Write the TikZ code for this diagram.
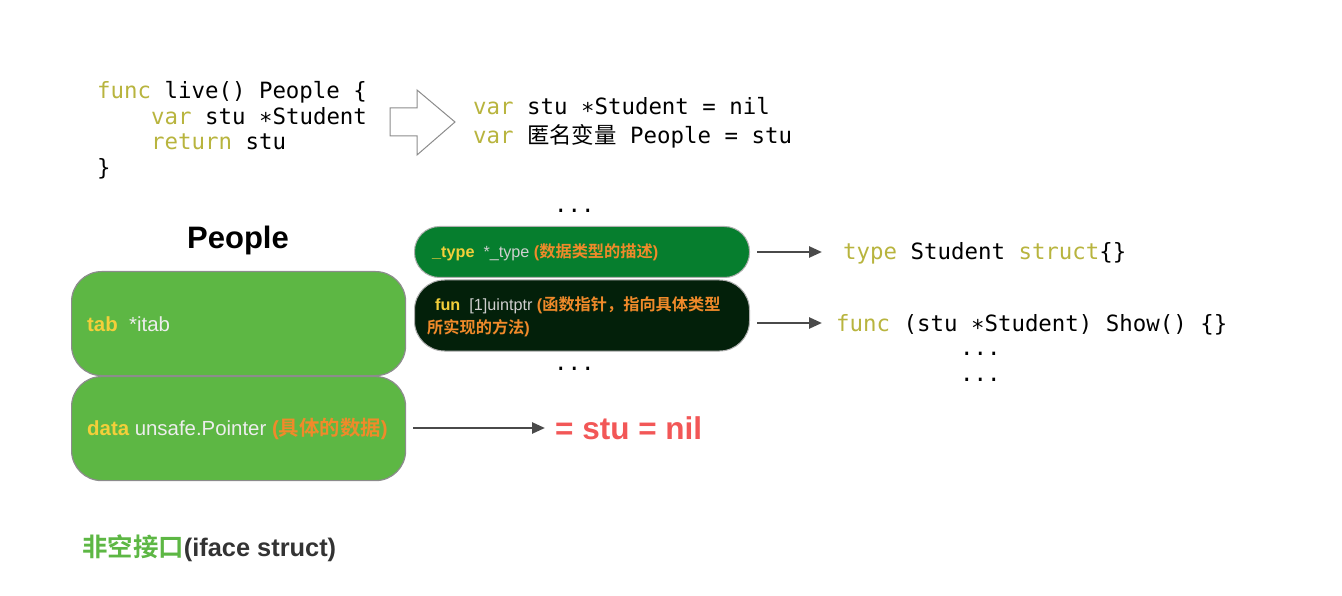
\documentclass[tikz,border=0pt]{standalone}
\usepackage{fontspec}
\setmainfont{Liberation Sans}
\newfontfamily\cjk{Noto Sans CJK SC}[BoldFont={Noto Sans CJK SC Bold}]
\newfontfamily\mono{DejaVu Sans Mono}
\usetikzlibrary{arrows.meta}
\definecolor{kw}{HTML}{B8B43E}
\definecolor{lgreen}{HTML}{5DB744}
\definecolor{dgreen}{HTML}{067E2E}
\definecolor{vdgreen}{HTML}{03200A}
\definecolor{ytxt}{HTML}{F3CF3A}
\definecolor{otxt}{HTML}{F08A2A}
\definecolor{rtxt}{HTML}{F25757}
\definecolor{wtxt}{HTML}{EDEDED}
\definecolor{gtxt}{HTML}{CFCFCF}
\definecolor{conncol}{HTML}{4A4A4A}
\definecolor{bordercol}{HTML}{8C8C8C}
\newcommand{\kw}[1]{\textcolor{kw}{#1}}
\begin{document}
\begin{tikzpicture}[x=1pt,y=-1pt,
  code/.style={font=\mono\fontsize{22.4}{26}\selectfont, inner sep=0pt, anchor=base west},
  boxtxt/.style={font=\fontsize{20.4}{24}\selectfont, inner sep=0pt, anchor=base west, text=wtxt},
  smalltxt/.style={font=\fontsize{16.2}{19}\selectfont, inner sep=0pt, anchor=base west, text=gtxt},
  bigbox/.style={draw=bordercol, line width=1.2pt, fill=lgreen, rounded corners=30pt, minimum width=334pt, minimum height=104pt, anchor=north west, inner sep=0pt},
  pill/.style={draw=bordercol!70, line width=1pt, minimum width=335pt, anchor=north west, inner sep=0pt},
  conn/.style={draw=conncol, line width=2.6pt, -{Triangle[length=13pt,width=11pt]}}]
\useasboundingbox (0,0) rectangle (1342,596);

% top-left code
\node[code] (c1) at (97,99) {\kw{func} live() People \{};
\node[code] (c2) at (151,125) {\kw{var} stu ∗Student};
\node[code] (c3) at (151,150) {\kw{return} stu};
\node[code] (c4) at (97,176) {\}};

% hollow arrow
\draw[draw=black!45, line width=1pt, fill=white] (390,108) -- (417,108) -- (417,90) -- (455,122) -- (417,155) -- (417,136) -- (390,136) -- cycle;

% right code
\node[code] (r1) at (473,115) {\kw{var} stu ∗Student = nil};
\node[code] (r2) at (473,144) {\kw{var} {\cjk 匿名变量} People = stu};

% People title
\node[font=\bfseries\fontsize{31}{36}\selectfont, inner sep=0pt, anchor=base] (title) at (238,249) {People};

% big boxes
\node[bigbox] (tab) at (71,271) {};
\node[bigbox] (data) at (71,376) {};
\node[boxtxt] (tabt) at (87,331) {\textcolor{ytxt}{\bfseries tab}\ \ *itab};
\node[boxtxt] (datat) at (87,435) {\textcolor{ytxt}{\bfseries data} unsafe.Pointer \textcolor{otxt}{\bfseries ({\cjk\bfseries 具体的数据})}};

% pills
\node[pill, fill=dgreen, rounded corners=25pt, minimum height=51pt] (typeb) at (414,226) {};
\node[pill, fill=vdgreen, rounded corners=30pt, minimum height=71pt] (funb) at (414,279.5) {};
\node[smalltxt] (typet) at (432,257.5) {\textcolor{ytxt}{\bfseries \_type}\ \ *\_type \textcolor{otxt}{\bfseries ({\cjk\bfseries 数据类型的描述})}};
\node[smalltxt] (funt1) at (435,310) {\textcolor{ytxt}{\bfseries fun}\ \ [1]uintptr \textcolor{otxt}{\bfseries ({\cjk\bfseries 函数指针，指向具体类型}}};
\node[smalltxt] (funt2) at (427,333.5) {\textcolor{otxt}{\bfseries {\cjk\bfseries 所实现的方法})}};

% dots
\node[code] (d1) at (554,213) {...};
\node[code] (d2) at (554,370) {...};
\node[code] (d3) at (960,355) {...};
\node[code] (d4) at (960,381) {...};

% right side code
\node[code] (tcode) at (843,260) {\kw{type} Student \kw{struct}\{\}};
\node[code] (fcode) at (836,331) {\kw{func} (stu ∗Student) Show() \{\}};

% nil text
\node[font=\bfseries\fontsize{31.5}{36}\selectfont, text=rtxt, inner sep=0pt, anchor=base west] (nilt) at (555,439) {= stu = nil};

% caption
\node[font=\bfseries\fontsize{25.4}{30}\selectfont, inner sep=0pt, anchor=base west] (cap) at (82,556) {\textcolor{lgreen}{\cjk\bfseries 非空接口}\textcolor{black!80}{(iface struct)}};

% connectors
\coordinate (e1) at (822,252);
\coordinate (e2) at (822,323);
\coordinate (e3) at (545,428);
\draw[conn] ([xshift=7pt]typeb.east |- e1) -- (e1);
\draw[conn] ([xshift=7pt]funb.east |- e2) -- (e2);
\draw[conn] ([xshift=7pt]data.east |- e3) -- (e3);
\end{tikzpicture}
\end{document}
